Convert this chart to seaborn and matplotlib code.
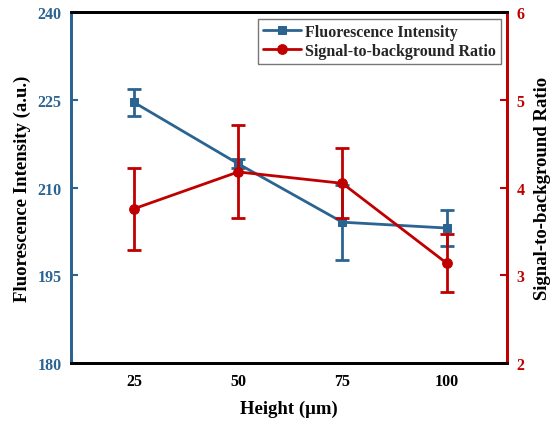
import matplotlib
matplotlib.use("Agg")
import matplotlib.pyplot as plt
import seaborn as sns
import pandas as pd

# Data
heights = [25, 50, 75, 100]
fluorescence = [224.6, 214.1, 204.1, 203.1]
fluorescence_err = [2.3, 0.8, 6.4, 3.1]
sbr = [3.76, 4.18, 4.05, 3.14]
sbr_err = [0.47, 0.53, 0.40, 0.33]
left_ticks = [180, 195, 210, 225, 240]
right_ticks = [2, 3, 4, 5, 6]

BLUE = "#2B6391"
RED = "#C00000"

sns.set_theme(style="white")
plt.rcParams['font.family'] = ['Liberation Serif', 'DejaVu Serif']
plt.rcParams['font.weight'] = 'bold'
plt.rcParams['axes.labelweight'] = 'bold'

df = pd.DataFrame({"Height": heights, "FI": fluorescence, "FIerr": fluorescence_err,
                   "SBR": sbr, "SBRerr": sbr_err})

fig = plt.figure(figsize=(5.52, 4.27), dpi=100)
ax = fig.add_axes([0.1295, 0.1475, 0.9185 - 0.1295, 0.9686 - 0.1475])
ax2 = ax.twinx()

sns.lineplot(data=df, x="Height", y="FI", ax=ax, color=BLUE, marker="s",
             markersize=6, markeredgecolor=BLUE, linewidth=2,
             label="Fluorescence Intensity", legend=False)
ax.errorbar(df["Height"], df["FI"], yerr=df["FIerr"], fmt="none", ecolor=BLUE,
            elinewidth=2, capsize=5, capthick=2)

sns.lineplot(data=df, x="Height", y="SBR", ax=ax2, color=RED, marker="o",
             markersize=7, markeredgecolor=RED, linewidth=2,
             label="Signal-to-background Ratio", legend=False)
ax2.errorbar(df["Height"], df["SBR"], yerr=df["SBRerr"], fmt="none", ecolor=RED,
             elinewidth=2, capsize=5, capthick=2)

ax.set_xlim(10, 114.5)
ax.set_ylim(180, 240)
ax2.set_ylim(2, 6)
ax.set_xticks(heights)
ax.set_xticklabels([str(h) for h in heights])
ax.set_yticks(left_ticks)
ax.set_yticklabels([str(t) for t in left_ticks])
ax2.set_yticks(right_ticks)
ax2.set_yticklabels([str(t) for t in right_ticks])

fs_tick = 11.5
ax.tick_params(axis="x", direction="in", length=5, width=1.5, colors="black",
               labelsize=fs_tick, pad=7)
ax.tick_params(axis="y", direction="in", length=5, width=1.5, colors=BLUE,
               labelsize=fs_tick, pad=7)
ax2.tick_params(axis="y", direction="in", length=5, width=1.5, colors=RED,
                labelsize=fs_tick, pad=7)
for lab in ax.get_xticklabels() + ax.get_yticklabels() + ax2.get_yticklabels():
    lab.set_fontweight("bold")

for a in (ax, ax2):
    for s in a.spines.values():
        s.set_linewidth(2)
        s.set_visible(True)
    a.spines["top"].set_color("black")
    a.spines["bottom"].set_color("black")
    a.spines["left"].set_color(BLUE)
    a.spines["right"].set_color(RED)

ax.set_xlabel("Height (\u03bcm)", fontsize=13.5, fontweight="bold", labelpad=8, color="black")
ax.set_ylabel("Fluorescence Intensity (a.u.)", fontsize=13.5, fontweight="bold", labelpad=5, color="black")
ax2.set_ylabel("Signal-to-background Ratio", fontsize=13.5, fontweight="bold", labelpad=7, color="black")

h1, l1 = ax.get_legend_handles_labels()
h2, l2 = ax2.get_legend_handles_labels()
leg = ax2.legend(h1 + h2, l1 + l2, loc="upper right",
                 prop={"family": "Liberation Serif", "weight": "bold", "size": 11.5},
                 frameon=True, fancybox=False,
                 edgecolor="#555555", borderaxespad=0.4, handlelength=2.4,
                 handletextpad=0.25, borderpad=0.3, labelspacing=0.2)
leg.get_frame().set_linewidth(1)
for t in leg.get_texts():
    t.set_fontweight("bold")

fig.savefig("out.png", dpi=100)
